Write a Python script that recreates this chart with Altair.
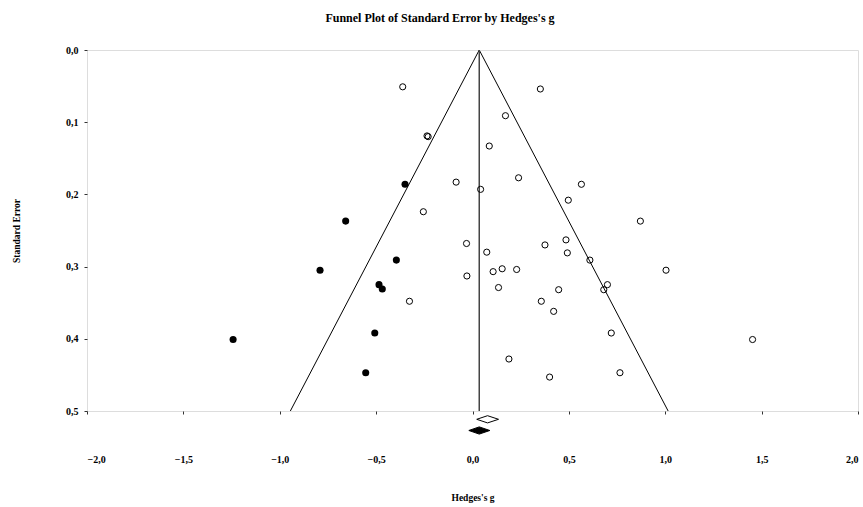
import altair as alt
import pandas as pd

# Observed studies (open circles)
observed_g = [-0.362, -0.236, -0.230, -0.085, -0.255, 0.352, 0.171, 0.087, 0.042,
              0.239, 0.565, 0.497, 0.871, -0.031, -0.029, -0.327, 0.074, 0.376,
              0.485, 0.492, 0.609, 0.107, 0.154, 0.229, 1.004, 0.135, 0.447,
              0.700, 0.681, 0.357, 0.421, 0.720, 1.453, 0.189, 0.400, 0.765]
observed_se = [0.051, 0.119, 0.120, 0.183, 0.224, 0.054, 0.091, 0.133, 0.193,
               0.177, 0.186, 0.208, 0.237, 0.268, 0.313, 0.348, 0.280, 0.270,
               0.263, 0.281, 0.291, 0.307, 0.303, 0.304, 0.305, 0.329, 0.332,
               0.325, 0.332, 0.348, 0.362, 0.392, 0.401, 0.428, 0.453, 0.447]

# Imputed studies from trim-and-fill (filled circles)
imputed_g = [-0.350, -0.658, -0.791, -0.395, -0.485, -0.468, -1.242, -0.507, -0.554]
imputed_se = [0.186, 0.237, 0.305, 0.291, 0.325, 0.331, 0.401, 0.392, 0.447]

# Pooled estimates: [lower, point, upper]
observed_pooled = [0.022, 0.078, 0.135]
adjusted_pooled = [-0.019, 0.035, 0.090]

x_ticks = [-2.0, -1.5, -1.0, -0.5, 0.0, 0.5, 1.0, 1.5, 2.0]
y_ticks = [0.0, 0.1, 0.2, 0.3, 0.4, 0.5]
se_max = 0.5

FONT = "'Liberation Serif', 'Times New Roman', Times, serif"
comma_fmt = "replace(format(datum.value, '.1f'), '.', ',')"

xscale = alt.Scale(domain=[-2, 2], nice=False, zero=False)
yscale = alt.Scale(domain=[0, se_max], reverse=True, nice=False, zero=False)

obs_df = pd.DataFrame({"g": observed_g, "se": observed_se})
imp_df = pd.DataFrame({"g": imputed_g, "se": imputed_se})

center = adjusted_pooled[1]
funnel_df = pd.DataFrame({
    "se": [0.0, se_max, 0.0, se_max],
    "g": [center, center - 1.96 * se_max, center, center + 1.96 * se_max],
    "side": ["L", "L", "R", "R"],
})

axis_style = dict(
    grid=False, domain=False, tickSize=3, tickColor="#333",
    labelFont=FONT, labelFontSize=10, labelFontWeight="bold", labelColor="black",
    titleFont=FONT, titleFontSize=9.5, titleFontWeight="bold", titleColor="black",
    labelExpr=comma_fmt,
)

x_enc = alt.X(
    "g:Q", scale=xscale, title="Hedges's g",
    axis=alt.Axis(values=x_ticks, labelPadding=40, titlePadding=28, **axis_style),
)
y_enc = alt.Y(
    "se:Q", scale=yscale, title="Standard Error",
    axis=alt.Axis(values=y_ticks, labelPadding=6, titlePadding=44, **axis_style),
)

funnel = alt.Chart(funnel_df).mark_line(color="black", strokeWidth=1).encode(
    x=x_enc, y=y_enc, detail="side:N"
)

center_line = alt.Chart(pd.DataFrame({"g": [center]})).mark_rule(
    color="#444", strokeWidth=1.5
).encode(x="g:Q", y=alt.value(0), y2=alt.value("height"))

observed = alt.Chart(obs_df).mark_point(
    shape="circle", filled=False, color="black", size=38, strokeWidth=1, opacity=1
).encode(x="g:Q", y="se:Q")

imputed = alt.Chart(imp_df).mark_point(
    shape="circle", filled=True, color="black", size=50, opacity=1
).encode(x="g:Q", y="se:Q")


def diamond(ci, row_se, half):
    lo, mid, hi = ci
    return pd.DataFrame({
        "g": [lo, mid, hi],
        "d1": [row_se, row_se - half, row_se],
        "d2": [row_se, row_se + half, row_se],
    })


half_h = 0.005
open_diamond = alt.Chart(diamond(observed_pooled, 0.5115, half_h)).mark_area(
    fill="white", stroke="black", strokeWidth=1, clip=False
).encode(x="g:Q", y=alt.Y("d1:Q", scale=yscale), y2="d2:Q")

filled_diamond = alt.Chart(diamond(adjusted_pooled, 0.527, half_h)).mark_area(
    fill="black", stroke="black", strokeWidth=1, clip=False
).encode(x="g:Q", y=alt.Y("d1:Q", scale=yscale), y2="d2:Q")

title = alt.Chart(pd.DataFrame({"t": ["Funnel Plot of Standard Error by Hedges's g"]})).mark_text(
    font=FONT, fontSize=12, fontWeight="bold", color="black", align="center", baseline="middle"
).encode(text="t:N", x=alt.value(353), y=alt.value(-32))

chart = alt.layer(
    funnel, center_line, observed, imputed, open_diamond, filled_diamond, title
).properties(
    width=771, height=361,
    autosize=alt.AutoSizeParams(type="none"),
    padding={"left": 87, "top": 50, "right": 5, "bottom": 96},
).configure_view(
    stroke="#555", strokeWidth=1.5
).configure(background="white")

chart.save("out.html", embed_options={"renderer": "svg", "actions": False})
